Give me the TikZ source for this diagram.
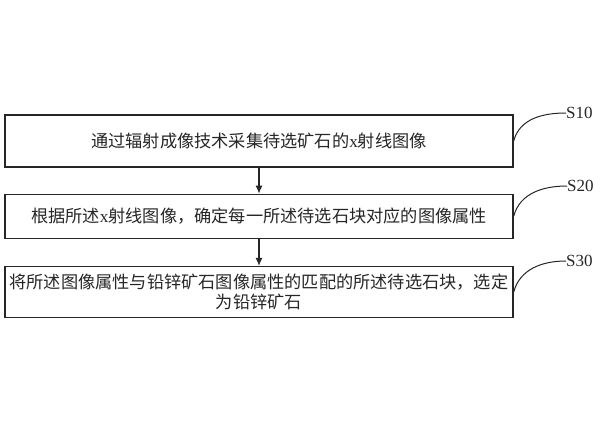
\documentclass[tikz,border=0pt]{standalone}
\usepackage{fontspec}
\setmainfont{Liberation Serif}
\newfontfamily\cjk{Noto Sans CJK SC}
\usetikzlibrary{positioning}
\usetikzlibrary{arrows.meta}
\tikzset{%
  steparrow/.style = {-{Latex[length=8pt,width=7pt]}, line width=1.3pt, draw=black!85},
  b/.style = {rectangle, draw=black!85, line width=1.3pt, minimum width=508pt,
        inner sep=0pt, text width=504pt, align=center, text=black!85,
        font=\fontsize{17.2}{20}\selectfont},
  lbl/.style = {inner sep=0pt, anchor=west, text=black!85,
        font=\fontsize{17}{20}\selectfont},
  lead/.style = {line width=1pt, draw=black!85}
}
\begin{document}
\begin{tikzpicture}[x=1pt,y=1pt]
    \useasboundingbox (0,0) rectangle (600,-424);
    \node[b, minimum height=52pt] (box1) at (259,-141)
        {{\cjk 通过辐射成像技术采集待选矿石的}x{\cjk 射线图像}};
    \node[b, minimum height=44pt, below=26pt of box1] (box2)
        {{\cjk 根据所述}x{\cjk 射线图像，确定每一所述待选石块对应的图像属性}};
    \node[b, minimum height=51pt, below=27pt of box2] (box3)
        {{\cjk 将所述图像属性与铅锌矿石图像属性的匹配的所述待选石块，选定}\\
         {\cjk 为铅锌矿石}};
    \draw[steparrow] (box1) -- (box2);
    \draw[steparrow] (box2) -- (box3);
    % step labels
    \node[lbl] (s10) at (566,-113) {S10};
    \node[lbl] (s20) at (567,-186) {S20};
    \node[lbl] (s30) at (566,-261) {S30};
    \draw[lead] (box1.east) to[out=75, in=180] (s10.west);
    \draw[lead] (box2.east) to[out=75, in=180] (s20.west);
    \draw[lead] (box3.east) to[out=75, in=180] (s30.west);
\end{tikzpicture}
\end{document}
